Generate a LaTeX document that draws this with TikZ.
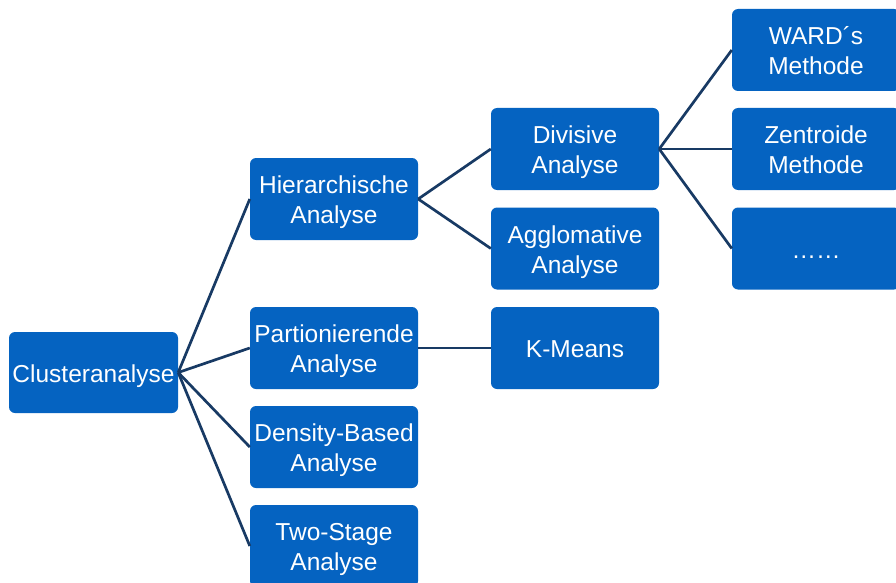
\documentclass[tikz,border=0pt]{standalone}
\usepackage{fontspec}
\setmainfont{Liberation Sans}
\definecolor{boxblue}{RGB}{5,99,193}
\definecolor{linenavy}{RGB}{24,58,100}
\newcommand\firstln{\rule{0pt}{25pt}}
\tikzset{
  box/.style={fill=boxblue, draw=none, rounded corners=6pt, minimum width=168pt, minimum height=82pt,
    inner sep=0pt, text=white, align=center, font=\fontsize{24.5pt}{30pt}\selectfont, text depth=6pt},
  conn/.style={draw=linenavy, line width=2.7pt}
}
\begin{document}
\begin{tikzpicture}[x=1pt,y=-1pt]
\useasboundingbox (0,0) rectangle (896,583);
\begin{scope}
\clip (0,0) rectangle (896,583);
\node[box, minimum width=169pt, minimum height=81pt] (clu) at (93.5,372.5) {\firstln Clusteranalyse};
\node[box] (hie) at (334,199) {\firstln Hierarchische\\Analyse};
\node[box] (par) at (334,348) {\firstln Partionierende\\Analyse};
\node[box] (den) at (334,447) {\firstln Density-Based\\Analyse};
\node[box] (two) at (334,546) {\firstln Two-Stage\\Analyse};
\node[box] (div) at (575,149) {\firstln Divisive\\Analyse};
\node[box] (agg) at (575,248.5) {\firstln Agglomative\\Analyse};
\node[box] (km) at (575,348) {\firstln K-Means};
\node[box] (ward) at (816,50) {\firstln WARD´s\\Methode};
\node[box] (zen) at (816,149) {\firstln Zentroide\\Methode};
\node[box] (dots) at (816,248.5) {\firstln ……};
\foreach \t in {hie,par,den,two} \draw[conn] (clu.east) -- (\t.west);
\foreach \t in {div,agg} \draw[conn] (hie.east) -- (\t.west);
\draw[conn] (par.east) -- (km.west);
\foreach \t in {ward,zen,dots} \draw[conn] (div.east) -- (\t.west);
\end{scope}
\end{tikzpicture}
\end{document}
